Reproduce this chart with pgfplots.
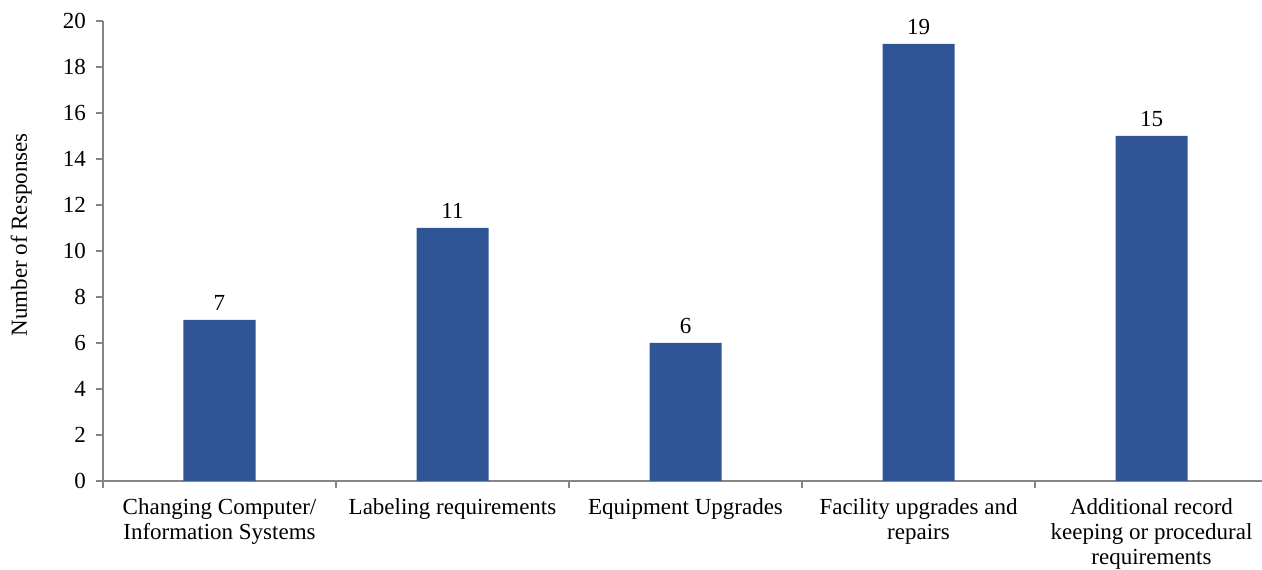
\documentclass[border=0pt]{standalone}
\usepackage{fontspec}
\setmainfont{Liberation Serif}
\usepackage{pgfplots}
\pgfplotsset{compat=1.18}
\definecolor{barblue}{HTML}{2F5597}
\definecolor{axisgray}{HTML}{868686}

\newcommand{\chartfont}{\fontsize{11.5}{12.5}\selectfont}

\begin{document}
\begin{tikzpicture}
\begin{axis}[
  name=ax,
  scale only axis,
  width=582.5pt, height=230pt,
  xmin=-0.5, xmax=4.5,
  ymin=0, ymax=20,
  axis x line=bottom, axis y line=left,
  axis line style={-, draw=axisgray, line width=0.6pt},
  ytick={0,2,...,20},
  xtick={0,1,2,3,4},
  xticklabels={
    {Changing Computer/\\Information Systems},
    {Labeling requirements},
    {Equipment Upgrades},
    {Facility upgrades and\\repairs},
    {Additional record\\keeping or procedural\\requirements}},
  minor xtick={-0.5,0.5,1.5,2.5,3.5,4.5},
  major x tick style={draw=none},
  tick style={draw=axisgray, line width=0.6pt},
  tick align=outside,
  major tick length=3.5pt,
  minor tick length=3.5pt,
  /pgf/number format/assume math mode=true,
  tick label style={font=\chartfont, text=black},
  xticklabel style={align=center, anchor=north, yshift=-1.5pt},
  yticklabel style={xshift=-1.5pt},
  every axis y label/.style={at={(axis description cs:-0.0703,0.535)}, rotate=90, anchor=center},
  ylabel={Number of Responses},
  label style={font=\chartfont},
  ybar,
  bar width=36pt,
  nodes near coords,
  every node near coord/.append style={font=\chartfont, text=black, yshift=1pt},
]
\addplot[fill=barblue, draw=none] coordinates {(0,7) (1,11) (2,6) (3,19) (4,15)};
\end{axis}
\pgfresetboundingbox
\path[use as bounding box] ([xshift=-51.5pt,yshift=-44.5pt]ax.south west) rectangle ([xshift=-3pt,yshift=10.5pt]ax.north east);
\end{tikzpicture}
\end{document}
